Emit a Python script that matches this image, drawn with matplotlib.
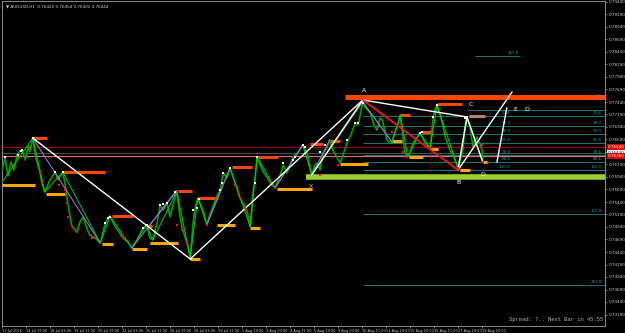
import numpy as np
import matplotlib
matplotlib.use("Agg")
import matplotlib.pyplot as plt

# price path (bar index, price)
bars = [0, 4, 8, 12, 16, 20, 24, 27, 31, 35, 37, 41, 45, 51, 53, 57, 64, 71, 75, 81,
        85, 88, 91, 93, 100, 104, 108, 113, 117, 124, 131, 136, 141, 144, 151, 156, 161, 168, 173, 180,
        188, 193, 197, 201, 207, 211, 215, 220, 224, 228, 233, 237, 240, 244, 247, 251, 255, 257, 261, 268,
        273, 277, 281, 287, 291, 295, 300, 304, 311, 315, 317, 323, 327, 331, 335, 337, 340, 347, 352, 357,
        364, 371, 375, 380, 384, 388, 395, 401, 405, 408, 413, 417, 420, 424, 428, 433, 437, 441, 447, 451,
        456, 460, 465, 471, 475, 479, 481, 485, 491, 496, 500, 504, 507, 511, 513, 517, 520, 524, 527, 531,
        535, 537, 541, 545, 548, 553, 557, 561, 564, 568, 571, 575, 577, 580, 584, 587, 591, 595, 597, 601,
        604, 608, 611, 615, 617, 620, 624, 628, 631, 633, 637, 640, 641]
prices = [0.7608, 0.7632, 0.7596, 0.7624, 0.7608, 0.7638, 0.7646, 0.7648, 0.7628, 0.7656, 0.7644, 0.7672, 0.7632, 0.7602, 0.7582, 0.7564, 0.7588, 0.7604, 0.7588, 0.7604,
          0.7572, 0.7538, 0.7514, 0.7496, 0.7484, 0.7504, 0.7514, 0.7492, 0.7478, 0.7472, 0.7462, 0.7492, 0.7512, 0.7516, 0.7494, 0.7484, 0.7472, 0.7464, 0.7452, 0.7468,
          0.7492, 0.7498, 0.7472, 0.7468, 0.7504, 0.7538, 0.7528, 0.7542, 0.7514, 0.7538, 0.7566, 0.7518, 0.7494, 0.7474, 0.7462, 0.7432, 0.7504, 0.7528, 0.7552, 0.7528,
          0.7498, 0.7518, 0.7534, 0.7558, 0.7568, 0.7602, 0.7592, 0.7612, 0.7582, 0.7564, 0.7552, 0.7538, 0.7524, 0.7494, 0.7568, 0.7582, 0.7634, 0.7608, 0.7596, 0.7584,
          0.7572, 0.7598, 0.7618, 0.7602, 0.7618, 0.7634, 0.7644, 0.7658, 0.7648, 0.7632, 0.7598, 0.7618, 0.7622, 0.7608, 0.7642, 0.7652, 0.7668, 0.7648, 0.7632, 0.7622,
          0.7644, 0.7662, 0.7678, 0.7702, 0.7698, 0.7728, 0.7744, 0.7732, 0.7722, 0.7698, 0.7688, 0.7712, 0.7708, 0.7684, 0.7668, 0.7662, 0.7664, 0.7684, 0.7694, 0.7718,
          0.7668, 0.7644, 0.7634, 0.7648, 0.7662, 0.7672, 0.7682, 0.7672, 0.7662, 0.7656, 0.7652, 0.7714, 0.7728, 0.7738, 0.7718, 0.7702, 0.7674, 0.7658, 0.7648, 0.7638,
          0.7628, 0.7612, 0.7628, 0.7654, 0.7692, 0.7712, 0.7694, 0.7654, 0.7668, 0.7674, 0.7662, 0.7648, 0.7624]

# zigzag swing points
zz_bars = [0, 41, 57, 81, 131, 144, 173, 193, 201, 233, 251, 261, 273, 304, 331, 340, 364, 401, 413, 481,
           520, 531, 541, 557, 571, 580, 608, 620, 641]
zz_prices = [0.7584, 0.7672, 0.7564, 0.7604, 0.7462, 0.7516, 0.7452, 0.7498, 0.7468, 0.7566, 0.7432, 0.7552, 0.7498, 0.7612, 0.7494, 0.7634, 0.7572, 0.7658, 0.7598, 0.7744,
             0.7664, 0.7718, 0.7634, 0.7682, 0.7652, 0.7738, 0.7612, 0.7712, 0.7624]

white_dot_bars = [4, 21, 25, 27, 41, 71, 81, 137, 141, 144, 188, 193, 211, 215, 220, 231, 255, 260, 263, 291,
                  293, 295, 304, 337, 340, 375, 388, 391, 401, 404, 424, 431, 460, 471, 475, 481, 557, 560, 575, 580, 617]
white_dot_prices = [0.7634, 0.7638, 0.7646, 0.7648, 0.7672, 0.7604, 0.7604, 0.7502, 0.7512, 0.7514, 0.7492, 0.7498, 0.7538, 0.7540, 0.7542, 0.7564, 0.7528, 0.7532, 0.7550, 0.7568,
                    0.7582, 0.7602, 0.7612, 0.7582, 0.7634, 0.7622, 0.7628, 0.7634, 0.7658, 0.7654, 0.7644, 0.7658, 0.7668, 0.7702, 0.7702, 0.7742, 0.7682, 0.7684, 0.7714, 0.7738, 0.7712]

red_dot_bars = [51, 53, 76, 84, 87, 88, 93, 100, 117, 120, 160, 164, 233, 240, 247, 273, 311, 315, 317, 324,
                327, 357, 364, 411, 424, 448, 520, 535, 540, 571, 604, 608, 640, 641]
red_dot_prices = [0.7602, 0.7582, 0.7578, 0.7568, 0.7542, 0.7514, 0.7496, 0.7484, 0.7478, 0.7472, 0.7478, 0.7472, 0.7498, 0.7488, 0.7462, 0.7498, 0.7578, 0.7564, 0.7552, 0.7532,
                  0.7524, 0.7588, 0.7572, 0.7618, 0.7598, 0.7618, 0.7684, 0.7644, 0.7634, 0.7652, 0.7612, 0.7612, 0.7658, 0.7624]

# resistance (orange) and support (yellow) segments: start bar, end bar, price
res_start = [41, 81, 147, 193, 235, 263, 307, 341, 411, 437, 531, 560, 580]
res_end = [60, 137, 175, 200, 253, 288, 333, 368, 428, 451, 544, 573, 613]
res_price = [0.7672, 0.7604, 0.7516, 0.7496, 0.7566, 0.7552, 0.7614, 0.7634, 0.7660, 0.7666, 0.7718, 0.7684, 0.7740]

sup_start = [0, 59, 133, 173, 197, 251, 287, 331, 367, 451, 520, 543, 571, 611, 641]
sup_end = [44, 84, 148, 193, 235, 264, 311, 344, 413, 488, 533, 561, 581, 624, 647]
sup_price = [0.7578, 0.7560, 0.7460, 0.7450, 0.7462, 0.7430, 0.7498, 0.7492, 0.7570, 0.7620, 0.7666, 0.7634, 0.7650, 0.7608, 0.7624]

# harmonic pattern legs
white_legs = [((41, 0.7672), (251, 0.7430)), ((251, 0.7430), (481, 0.7748)), ((413, 0.7598), (481, 0.7748)),
              ((481, 0.7748), (620, 0.7714)), ((608, 0.7608), (620, 0.7714)), ((620, 0.7714), (641, 0.7624)),
              ((608, 0.7608), (680, 0.7764)), ((660, 0.7624), (673, 0.7732))]
purple_legs = [((41, 0.7672), (131, 0.7462)), ((173, 0.7452), (233, 0.7566)), ((197, 0.7498), (232, 0.7566)),
               ((273, 0.7498), (304, 0.7612)), ((364, 0.7572), (401, 0.7658)), ((413, 0.7598), (437, 0.7668)),
               ((481, 0.7744), (520, 0.7664))]

point_names = ["A", "B", "C", "D", "X"]
point_bars = [483, 609, 625, 641, 412]
point_prices = [0.7766, 0.7584, 0.7738, 0.7598, 0.7574]

fib_ratios = [0.0, 23.6, 38.2, 50.0, 61.8, 78.6, 88.6, 100.0, 161.8, 261.8]
fib_high = 0.7750
fib_low = 0.7608

x_labels = ["13 Jul 2016", "14 Jul 19:00", "18 Jul 03:00", "19 Jul 11:00", "20 Jul 19:00", "22 Jul 03:00",
            "25 Jul 11:00", "26 Jul 19:00", "28 Jul 03:00", "29 Jul 11:00", "1 Aug 19:00", "3 Aug 03:00",
            "4 Aug 11:00", "5 Aug 19:00", "9 Aug 03:00", "10 Aug 11:00", "11 Aug 19:00", "15 Aug 03:00",
            "16 Aug 11:00", "17 Aug 19:00", "19 Aug 03:00"]
x_tick_bars = [0, 32, 64, 96, 128, 160, 192, 224, 256, 288, 320, 352, 384, 416, 448, 480, 512, 544, 576, 608, 640]
y_ticks = [0.7944, 0.7919, 0.7894, 0.7869, 0.7844, 0.7819, 0.7794, 0.7769, 0.7744, 0.7719, 0.7694, 0.7669,
           0.7644, 0.7619, 0.7594, 0.7569, 0.7544, 0.7519, 0.7494, 0.7469, 0.7444, 0.7419, 0.7394, 0.7369,
           0.7344, 0.7319]

fig = plt.figure(figsize=(6.25, 3.33), dpi=100, facecolor="black")
ax = fig.add_axes([2 / 625, 7 / 333, 603 / 625, 325 / 333])
ax.set_facecolor("black")
ax.set_xlim(0, 804)
ax.set_ylim(0.7296, 0.7946)

# horizontal levels
ax.axhline(0.7654, color="#a00000", lw=0.8, zorder=1)
ax.axhline(0.7643, color="#707070", lw=0.5, zorder=1)
ax.axhline(0.7636, color="#e07070", lw=0.8, zorder=1)

# fibonacci levels
for r in fib_ratios:
    lvl = fib_high - r / 100 * (fib_high - fib_low)
    if r == 0:
        ax.hlines(lvl, 481, 804, color="#909090", lw=0.6, linestyles=(0, (1, 1.5)), zorder=1)
    else:
        ax.hlines(lvl, 481, 804, color="#1f8a8a", lw=0.6, zorder=1)
    ax.text(800, lvl + 0.0002, f"{r:.1f}", color="#1f9a9a", fontsize=3, ha="right", va="bottom")
    if 0 < r <= 100:
        ax.text(678, lvl + 0.0002, f"{r:.1f}", color="#1f9a9a", fontsize=3, ha="right", va="bottom")
ax.hlines(0.7728, 620, 804, color="#1f8a8a", lw=0.6, zorder=1)
ax.hlines(0.7836, 630, 690, color="#1f8a8a", lw=0.6, zorder=1)
ax.text(690, 0.7838, "161.8", color="#1f9a9a", fontsize=3, ha="right", va="bottom")

# vertical dotted markers
ax.vlines(571, 0.7604, 0.7748, color="#a00000", lw=0.7, linestyles=(0, (1, 1.5)), zorder=1)
ax.vlines(580, 0.7608, 0.7654, color="#a00000", lw=0.7, linestyles=(0, (1, 1.5)), zorder=1)

# big bands
ax.hlines(0.7754, 457, 804, color="#ff4500", lw=3.6, zorder=2)
ax.hlines(0.7595, 405, 804, color="#9acd32", lw=4.0, zorder=2)

ax.hlines(res_price, res_start, res_end, color="#ff4500", lw=2.2, zorder=3)
ax.hlines(sup_price, sup_start, sup_end, color="#ffa500", lw=2.2, zorder=3)
ax.hlines(0.7716, 623, 644, color="#c08060", lw=2.2, zorder=3)

# price and zigzag
ax.plot(bars, prices, color="#00a000", lw=1.2, zorder=4)
ax.plot(zz_bars, zz_prices, color="#00d000", lw=0.7, zorder=4)

for (x0, y0), (x1, y1) in purple_legs:
    ax.plot([x0, x1], [y0, y1], color="#9370db", lw=0.8, zorder=5)
for (x0, y0), (x1, y1) in white_legs:
    ax.plot([x0, x1], [y0, y1], color="white", lw=1.0, zorder=6)
ax.plot([481, 608], [0.7748, 0.7608], color="#ff1010", lw=1.3, zorder=6)

ax.scatter(white_dot_bars, white_dot_prices, s=3.5, marker="s", color="white", lw=0, zorder=7)
ax.scatter(red_dot_bars, red_dot_prices, s=4.5, marker="s", color="#ff1010", lw=0, zorder=7)

for name, b, p in zip(point_names, point_bars, point_prices):
    col = "#c0c0c0" if name == "X" else "white"
    ax.text(b, p, name, color=col, fontsize=4.5, ha="center", va="center", zorder=8)
ax.text(684, 0.7728, "E", color="white", fontsize=4.5, ha="center", va="center")
ax.text(700, 0.7728, "D", color="white", fontsize=4.5, ha="center", va="center")

# axes styling
for s in ax.spines.values():
    s.set_color("#a0a0a0")
    s.set_linewidth(0.6)
ax.yaxis.tick_right()
ax.set_yticks(y_ticks)
ax.set_yticklabels([f"{v:.5f}" for v in y_ticks])
ax.set_xticks(x_tick_bars)
ax.set_xticklabels(x_labels, ha="left")
ax.tick_params(colors="#a0a0a0", labelcolor="#d0d0d0", labelsize=3, length=1.5, width=0.5, pad=1)
ax.tick_params(axis="x", labelsize=2.5)

# current price labels on the right axis
for p, bg, fg in [(0.7654, "#e00000", "white"), (0.7643, "white", "black"), (0.7636, "#e00000", "white")]:
    ax.annotate(f"{p:.5f}", xy=(1.004, p), xycoords=("axes fraction", "data"), fontsize=3,
                color=fg, va="center", ha="left", annotation_clip=False,
                bbox=dict(boxstyle="square,pad=0.15", fc=bg, ec="none"))

ax.text(0.997, 0.012, "Spread: 7.. Next Bar in 45:55", transform=ax.transAxes, ha="right", va="bottom",
        color="#b0b0b0", fontsize=4, family="Liberation Mono")
fig.text(6 / 625, 1 - 4 / 333, "\u25bc AUDUSD,H1  0.76422 0.76454 0.76402 0.76444", color="#d0d0d0",
         fontsize=3, ha="left", va="top")

fig.savefig("out.png", dpi=100, facecolor="black")
